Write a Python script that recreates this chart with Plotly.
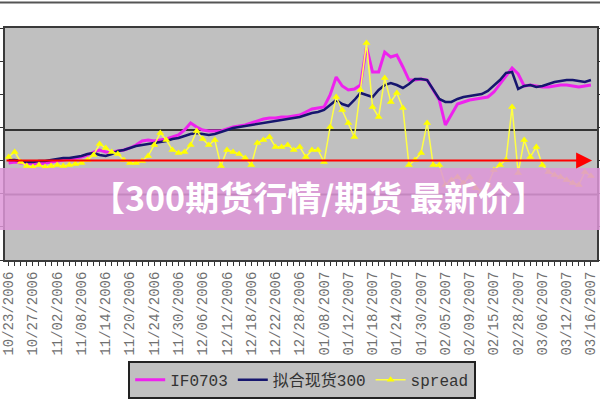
import pandas as pd
import plotly.graph_objects as go

# Trading days (CFFEX simulation period), Chinese holidays removed
holidays = ["2007-01-01", "2007-01-02", "2007-01-03",
            "2007-02-19", "2007-02-20", "2007-02-21", "2007-02-22", "2007-02-23"]
dates = [d.strftime("%m/%d/%Y") for d in pd.bdate_range("2006-10-23", "2007-03-16")
         if d.strftime("%Y-%m-%d") not in holidays]

# IF0703 futures (simulated)
if0703 = [1463, 1478, 1463, 1463, 1448, 1448, 1463, 1478, 1494, 1509,
          1524, 1539, 1554, 1584, 1629, 1659, 1629, 1629, 1644, 1659,
          1690, 1735, 1795, 1810, 1795, 1810, 1825, 1856, 1886, 1961,
          2067, 2006, 1961, 1946, 1946, 1946, 1976, 2006, 2022, 2037,
          2067, 2097, 2127, 2142, 2142, 2157, 2157, 2172, 2187, 2233,
          2278, 2293, 2308, 2489, 2761, 2625, 2565, 2580, 2640, 3213,
          2836, 2836, 3138, 3062, 3093, 2912, 2715, 2715, 2731, 2715,
          2565, 2414, 2037, 2187, 2353, 2384, 2414, 2429, 2444, 2459,
          2534, 2655, 2791, 2897, 2806, 2625, 2640, 2625, 2610, 2610,
          2625, 2640, 2640, 2625, 2610, 2625, 2640]

# fitted spot 300
spot = [1509, 1509, 1494, 1478, 1478, 1494, 1494, 1509, 1524, 1539,
        1539, 1554, 1569, 1599, 1614, 1584, 1569, 1599, 1644, 1659,
        1690, 1720, 1735, 1750, 1765, 1780, 1795, 1825, 1840, 1871,
        1901, 1916, 1901, 1886, 1901, 1931, 1961, 1991, 2006, 2022,
        2037, 2052, 2067, 2082, 2097, 2112, 2127, 2142, 2157, 2187,
        2218, 2233, 2263, 2338, 2414, 2353, 2323, 2414, 2519, 2489,
        2459, 2565, 2640, 2670, 2640, 2595, 2655, 2731, 2731, 2715,
        2565, 2429, 2384, 2384, 2429, 2459, 2474, 2489, 2504, 2550,
        2640, 2715, 2821, 2836, 2580, 2625, 2640, 2610, 2625, 2655,
        2685, 2700, 2715, 2715, 2700, 2685, 2715]

# spread (right axis)
spread = [22, 52, -8, -33, -39, -27, -39, -33, -27, -33,
          -27, -21, -14, 4, 34, 100, 76, 52, 40, 4,
          -14, -14, -2, 28, 94, 167, 124, 64, 46, 52,
          94, 179, 130, 94, 124, -33, 64, 52, 40, 16,
          -27, 106, 124, 142, 82, 82, 94, 64, 82, 22,
          64, 64, -8, 203, 384, 305, 227, 142, 426, 710,
          323, 263, 498, 354, 408, 317, -27, 4, 46, 227,
          -27, -27, -147, -117, -99, -135, -99, -165, -189, -147,
          -57, -27, 4, 323, -75, 124, 22, 82, -27, -69,
          -87, -99, -117, -135, -147, -69, -93]

tick_labels = [d if i % 4 == 0 else "" for i, d in enumerate(dates)]
ref_lines = [1960, 990]
banner_text = "【300期货行情/期货 最新价】"

fig = go.Figure()
fig.add_trace(go.Scatter(x=dates, y=if0703, name="IF0703", mode="lines",
                         line=dict(color="#ee22ee", width=3)))
fig.add_trace(go.Scatter(x=dates, y=spot, name="拟合现货300", mode="lines",
                         line=dict(color="#16166e", width=2.5)))
fig.add_trace(go.Scatter(x=dates, y=spread, name="spread", yaxis="y2",
                         mode="lines+markers",
                         line=dict(color="#ffff44", width=1.5),
                         marker=dict(symbol="triangle-up", size=7, color="#ffff00")))

shapes = []
for v in ref_lines:
    shapes.append(dict(type="line", xref="paper", x0=0, x1=1, yref="y", y0=v, y1=v,
                       line=dict(color="#333333", width=2), layer="below"))
# banner
shapes.append(dict(type="rect", xref="paper", x0=-0.01, x1=1.01, yref="paper",
                   y0=0.129, y1=0.397, fillcolor="rgb(222,150,216)", opacity=0.85,
                   line=dict(width=0), layer="above"))
# top frame line
shapes.append(dict(type="line", xref="paper", x0=-0.01, x1=1.01, yref="paper",
                   y0=1.11, y1=1.11, line=dict(color="#555555", width=2)))

fig.update_layout(
    width=600, height=400,
    margin=dict(l=5, r=3, t=28, b=140, autoexpand=False),
    paper_bgcolor="white", plot_bgcolor="#c0c0c0",
    showlegend=True,
    xaxis=dict(type="category", range=[-0.6, 97.0], tickmode="array",
               tickvals=dates, ticktext=tick_labels, tickangle=-90,
               ticks="outside", ticklen=4, tickcolor="#333333",
               showline=True, mirror=True, linecolor="#3a3a3a", linewidth=2,
               showgrid=False, zeroline=False,
               tickfont=dict(family="Liberation Mono", size=14, color="#707070")),
    yaxis=dict(range=[0, 3500], dtick=500, ticks="outside", ticklen=4,
               tickcolor="#333333", showticklabels=False, showgrid=False,
               zeroline=False, showline=True, mirror=True,
               linecolor="#3a3a3a", linewidth=2),
    yaxis2=dict(range=[-600, 800], dtick=200, overlaying="y", side="right",
                ticks="outside", ticklen=4, tickcolor="#333333",
                showticklabels=False, showgrid=False, zeroline=False),
    legend=dict(orientation="h", x=0.502, xanchor="center", y=-0.435, yanchor="top",
                bgcolor="#c0c0c0", bordercolor="#222222", borderwidth=2,
                font=dict(family="Liberation Mono, Noto Sans CJK SC", size=16,
                          color="#333333")),
    shapes=shapes,
    annotations=[
        dict(x=96.2, y=0, xref="x", yref="y2", ax=-0.6, ay=0, axref="x", ayref="y2",
             text="", showarrow=True, arrowhead=2, arrowsize=1.6, arrowwidth=2,
             arrowcolor="#ff0000"),
        dict(x=0.53, y=0.16, xref="paper", yref="paper", text=banner_text,
             showarrow=False,
             font=dict(family="Noto Sans CJK SC", size=34, color="white",
                       weight="bold")),
    ],
)

fig.write_html("out.html")
